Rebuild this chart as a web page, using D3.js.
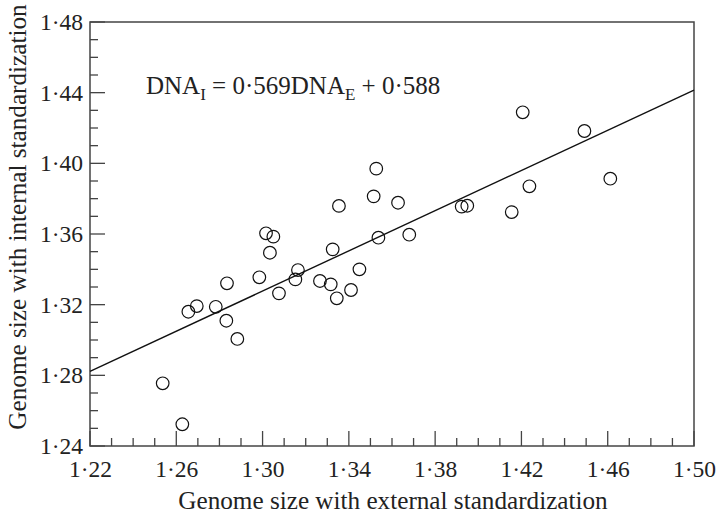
<!DOCTYPE html>
<html><head><meta charset="utf-8">
<script src="https://cdn.jsdelivr.net/npm/d3@7"></script>
<style>body{margin:0;background:#fff}svg{display:block}text{font-family:"Liberation Serif","DejaVu Serif",serif;fill:#222}</style>
</head><body><svg id="c" width="720" height="520"></svg>
<script>
const xValues = [1.2537,1.2628,1.2656,1.2695,1.2783,1.2835,1.2832,1.2883,1.2985,1.3034,1.3016,1.3050,1.3076,1.3152,1.3164,1.3266,1.3316,1.3325,1.3344,1.3354,1.3410,1.3449,1.3515,1.3527,1.3537,1.3628,1.3680,1.3923,1.3949,1.4155,1.4206,1.4237,1.4492,1.4612];
const yValues = [1.2755,1.2523,1.3160,1.3192,1.3188,1.3321,1.3109,1.3006,1.3355,1.3494,1.3604,1.3585,1.3264,1.3343,1.3396,1.3334,1.3315,1.3513,1.3236,1.3759,1.3283,1.3400,1.3813,1.3970,1.3579,1.3777,1.3596,1.3755,1.3760,1.3724,1.4289,1.3870,1.4183,1.3913];
const xTicks = [1.22,1.26,1.30,1.34,1.38,1.42,1.46,1.50];
const yTicks = [1.24,1.28,1.32,1.36,1.40,1.44,1.48];
const slope = 0.569, intercept = 0.588;

const svg = d3.select("#c");
const x = d3.scaleLinear().domain([1.22,1.50]).range([90,694]);
const y = d3.scaleLinear().domain([1.24,1.48]).range([446,22]);
const fmt = v => d3.format(".2f")(v).replace(".", "·");
const axCol = "#444";

// frame
svg.append("rect").attr("x",x(1.22)).attr("y",y(1.48)).attr("width",x(1.50)-x(1.22)).attr("height",y(1.24)-y(1.48))
  .attr("fill","none").attr("stroke",axCol).attr("stroke-width",1.5);

const xMinor = d3.range(0,29).map(i=>1.22+i*0.01);
const yMinor = d3.range(0,25).map(i=>1.24+i*0.01);

const xAxis = d3.axisBottom(x).tickValues(xTicks).tickFormat(fmt).tickSize(0).tickPadding(14);
const gx = svg.append("g").attr("transform",`translate(0,${y(1.24)})`).call(xAxis);
gx.select(".domain").remove();
gx.selectAll("text").attr("font-size",23.5).attr("fill","#222");
svg.append("g").selectAll("line").data(xMinor).join("line")
  .attr("x1",d=>x(d)).attr("x2",d=>x(d)).attr("y1",y(1.24))
  .attr("y2",d=>y(1.24)-(xTicks.some(t=>Math.abs(t-d)<1e-6)?15:8))
  .attr("stroke",axCol).attr("stroke-width",1.3);

const yAxis = d3.axisLeft(y).tickValues(yTicks).tickFormat(fmt).tickSize(0).tickPadding(7);
const gy = svg.append("g").attr("transform",`translate(${x(1.22)},0)`).call(yAxis);
gy.select(".domain").remove();
gy.selectAll("text").attr("font-size",23.5).attr("fill","#222");
svg.append("g").selectAll("line").data(yMinor).join("line")
  .attr("y1",d=>y(d)).attr("y2",d=>y(d)).attr("x1",x(1.22))
  .attr("x2",d=>x(1.22)+(yTicks.some(t=>Math.abs(t-d)<1e-6)?15:8))
  .attr("stroke",axCol).attr("stroke-width",1.3);

// regression line
svg.append("line").attr("x1",x(1.22)).attr("y1",y(slope*1.22+intercept))
  .attr("x2",x(1.50)).attr("y2",y(slope*1.50+intercept))
  .attr("stroke","#111").attr("stroke-width",1.4);

// points
svg.append("g").selectAll("circle").data(xValues.map((v,i)=>[v,yValues[i]])).join("circle")
  .attr("cx",d=>x(d[0])).attr("cy",d=>y(d[1])).attr("r",6.3)
  .attr("fill","none").attr("stroke","#111").attr("stroke-width",1.2);

// equation
const eq = svg.append("text").attr("x",146).attr("y",94).attr("font-size",25);
eq.append("tspan").text("DNA");
eq.append("tspan").attr("font-size",17).attr("dy",6).text("I");
eq.append("tspan").attr("dy",-6).text(" = 0·569DNA");
eq.append("tspan").attr("font-size",17).attr("dy",6).text("E");
eq.append("tspan").attr("dy",-6).text(" + 0·588");

// axis titles
svg.append("text").attr("x",393).attr("y",509).attr("text-anchor","middle").attr("font-size",25.2)
  .text("Genome size with external standardization");
svg.append("text").attr("transform","translate(26,217) rotate(-90)").attr("text-anchor","middle").attr("font-size",25.2)
  .text("Genome size with internal standardization");
</script></body></html>
